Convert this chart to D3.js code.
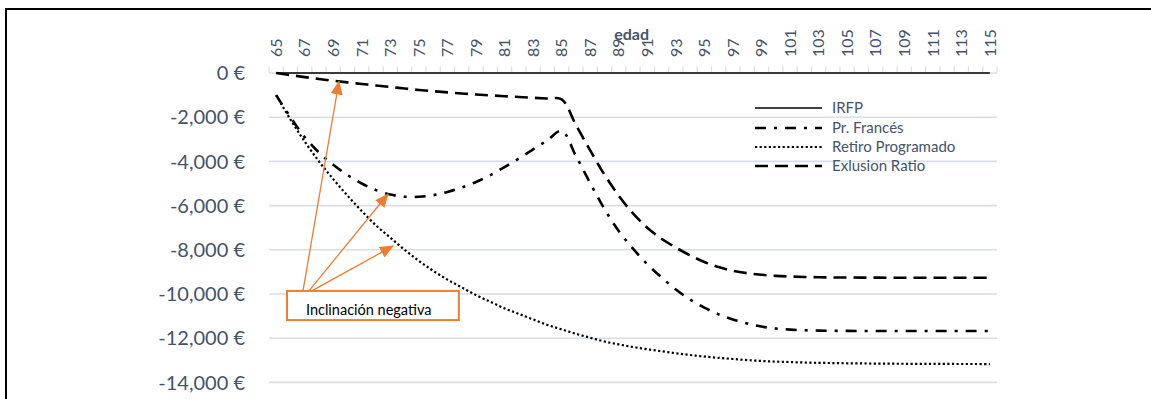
<!DOCTYPE html>
<html>
<head>
<meta charset="utf-8">
<script src="https://cdn.jsdelivr.net/npm/d3@7"></script>
<style>
  html, body { margin: 0; padding: 0; background: #fff; overflow: hidden; }
  svg { display: block; }
</style>
</head>
<body>
<svg id="chart" width="1151" height="399"></svg>
<script>
// Ages on the category axis
const ages = [65,66,67,68,69,70,71,72,73,74,75,76,77,78,79,80,81,82,83,84,85,86,87,88,89,90,
  91,92,93,94,95,96,97,98,99,100,101,102,103,104,105,106,107,108,109,110,111,112,113,114,115];
const ageTickLabels = [65,67,69,71,73,75,77,79,81,83,85,87,89,91,93,95,97,99,101,103,105,107,109,111,113,115];

// Value axis
const yTicks = [0,-2000,-4000,-6000,-8000,-10000,-12000,-14000];
const yTickLabels = ["0 €","-2,000 €","-4,000 €","-6,000 €","-8,000 €","-10,000 €","-12,000 €","-14,000 €"];

// Difference in payment by age (€), one value per age 65..115
const irfp = [0,0,0,0,0,0,0,0,0,0,0,0,0,0,0,0,0,0,0,0,0,0,0,0,0,0,
  0,0,0,0,0,0,0,0,0,0,0,0,0,0,0,0,0,0,0,0,0,0,0,0,0];
const prFrances = [-1000,-2000,-2900,-3600,-4150,-4620,-5000,-5300,-5500,-5600,-5600,-5530,-5380,-5180,-4930,-4620,
  -4260,-3870,-3460,-3040,-2620,-3750,-4980,-6150,-7150,-7950,-8650,-9250,-9800,-10250,-10620,-10920,-11150,-11330,
  -11470,-11560,-11610,-11640,-11655,-11665,-11670,-11672,-11673,-11674,-11675,-11675,-11675,-11675,-11675,-11675,-11675];
const retiroProgramado = [-1000,-2100,-3100,-4000,-4800,-5550,-6250,-6900,-7450,-8000,-8500,-8950,-9350,-9700,-10050,
  -10350,-10650,-10900,-11150,-11400,-11600,-11800,-11980,-12150,-12280,-12400,-12500,-12590,-12680,-12760,-12830,
  -12890,-12940,-12990,-13030,-13060,-13080,-13100,-13115,-13125,-13135,-13142,-13148,-13153,-13157,-13160,-13163,
  -13165,-13167,-13168,-13170];
const exclusionRatio = [0,-95,-185,-270,-350,-425,-495,-565,-630,-700,-770,-825,-875,-925,-970,-1010,-1050,-1085,
  -1120,-1155,-1190,-2350,-3500,-4600,-5550,-6350,-7000,-7500,-7900,-8250,-8550,-8780,-8950,-9060,-9130,-9180,-9210,
  -9230,-9242,-9250,-9255,-9258,-9260,-9262,-9263,-9264,-9265,-9265,-9266,-9266,-9266];

const seriesNames = ["IRFP", "Pr. Francés", "Retiro Programado", "Exlusion Ratio"];
const seriesValues = [irfp, prFrances, retiroProgramado, exclusionRatio];
const seriesStyles = [
  { width: 1.5, dash: null },
  { width: 2.6, dash: "11,8,3,8" },
  { width: 2.2, dash: "2.2,2.4" },
  { width: 2.6, dash: "13,7" }
];

// Callout: arrows (age, value) from the label box to the curves
const calloutText = "Inclinación negativa";
const calloutBox = { age0: 65.76, age1: 77.8, v0: -9860, v1: -11180 };
const calloutArrows = [
  { fromAge: 66.88, fromV: -9860, toAge: 69.4, toV: -385 },
  { fromAge: 67.3, fromV: -9860, toAge: 72.84, toV: -5475 },
  { fromAge: 67.5, fromV: -9860, toAge: 73.19, toV: -7828 }
];

const textColor = "#44546A";
const gridColor = "#D9DEE6";
const orange = "#ED7D31";
const font = "Lato, 'Open Sans', sans-serif";

const svg = d3.select("#chart");

const x = d3.scaleBand().domain(ages).range([269, 997]).padding(0);
const xc = a => x(a) + x.bandwidth() / 2;
const xAge = a => x(65) + (a - 65 + 0.5) * x.bandwidth();
const y = d3.scaleLinear().domain([-14000, 0]).range([382.4, 73]);

// Frame
svg.append("line").attr("x1", 5).attr("x2", 1151).attr("y1", 9).attr("y2", 9)
  .attr("stroke", "#000").attr("stroke-width", 2);
svg.append("line").attr("x1", 6).attr("x2", 6).attr("y1", 8).attr("y2", 399)
  .attr("stroke", "#000").attr("stroke-width", 2);

// Gridlines
svg.append("g").selectAll("line").data(yTicks.filter(v => v !== 0)).join("line")
  .attr("x1", 269).attr("x2", 997)
  .attr("y1", d => y(d)).attr("y2", d => y(d))
  .attr("stroke", gridColor).attr("stroke-width", 1.6);

// Value axis labels
svg.append("g").selectAll("text").data(yTicks).join("text")
  .attr("x", 245).attr("y", d => y(d)).attr("dy", "0.36em")
  .attr("text-anchor", "end")
  .attr("font-family", font).attr("font-size", 20).attr("fill", textColor)
  .text((d, i) => yTickLabels[i]);

// Category axis (at the top, ticks between categories)
svg.append("line").attr("x1", 269).attr("x2", 997).attr("y1", y(0)).attr("y2", y(0))
  .attr("stroke", gridColor).attr("stroke-width", 1.5);
const tickPos = ages.map(a => x(a)).concat([x(115) + x.bandwidth()]);
svg.append("g").selectAll("line").data(tickPos).join("line")
  .attr("x1", d => d).attr("x2", d => d)
  .attr("y1", y(0)).attr("y2", y(0) - 6.5)
  .attr("stroke", gridColor).attr("stroke-width", 1.2);

svg.append("g").selectAll("text").data(ageTickLabels).join("text")
  .attr("transform", d => `translate(${xc(d)},57) rotate(-90)`)
  .attr("dy", "0.36em")
  .attr("text-anchor", "start")
  .attr("font-family", font).attr("font-size", 16).attr("fill", textColor)
  .text(d => d);

svg.append("text")
  .attr("x", xAge(89.9)).attr("y", 40)
  .attr("text-anchor", "middle")
  .attr("font-family", font).attr("font-size", 16).attr("font-weight", "bold")
  .attr("fill", textColor)
  .text("edad");

// Series lines
const line = d3.line()
  .x((d, i) => xc(ages[i]))
  .y(d => y(d))
  .curve(d3.curveCatmullRom.alpha(0.5));

svg.append("g").selectAll("path").data(seriesValues).join("path")
  .attr("d", d => line(d))
  .attr("fill", "none")
  .attr("stroke", "#000")
  .attr("stroke-width", (d, i) => seriesStyles[i].width)
  .attr("stroke-dasharray", (d, i) => seriesStyles[i].dash);

// Legend
const legend = svg.append("g");
const legendRows = [108, 128, 147, 166];
seriesNames.forEach((name, i) => {
  legend.append("line")
    .attr("x1", 755).attr("x2", 822)
    .attr("y1", legendRows[i]).attr("y2", legendRows[i])
    .attr("stroke", "#000")
    .attr("stroke-width", i === 0 ? 1.3 : seriesStyles[i].width)
    .attr("stroke-dasharray", seriesStyles[i].dash);
  legend.append("text")
    .attr("x", 832).attr("y", legendRows[i]).attr("dy", "0.36em")
    .attr("font-family", font).attr("font-size", 15).attr("fill", textColor)
    .text(name);
});

// Callout box and arrows
const defs = svg.append("defs");
defs.append("marker")
  .attr("id", "arrowHead")
  .attr("viewBox", "0 0 14 12")
  .attr("refX", 13).attr("refY", 6)
  .attr("markerWidth", 14).attr("markerHeight", 12)
  .attr("markerUnits", "userSpaceOnUse")
  .attr("orient", "auto")
  .append("path").attr("d", "M0,0 L14,6 L0,12 Z").attr("fill", orange);

svg.append("g").selectAll("line").data(calloutArrows).join("line")
  .attr("x1", d => xAge(d.fromAge)).attr("y1", d => y(d.fromV))
  .attr("x2", d => xAge(d.toAge)).attr("y2", d => y(d.toV))
  .attr("stroke", orange).attr("stroke-width", 1.3)
  .attr("marker-end", "url(#arrowHead)");

svg.append("rect")
  .attr("x", xAge(calloutBox.age0)).attr("y", y(calloutBox.v0))
  .attr("width", xAge(calloutBox.age1) - xAge(calloutBox.age0))
  .attr("height", y(calloutBox.v1) - y(calloutBox.v0))
  .attr("fill", "#fff").attr("stroke", orange).attr("stroke-width", 2);

svg.append("text")
  .attr("x", xAge(calloutBox.age0) + 19).attr("y", y(calloutBox.v1) - 5)
  .attr("font-family", font).attr("font-size", 14.5).attr("fill", "#000")
  .text(calloutText);
</script>
</body>
</html>
